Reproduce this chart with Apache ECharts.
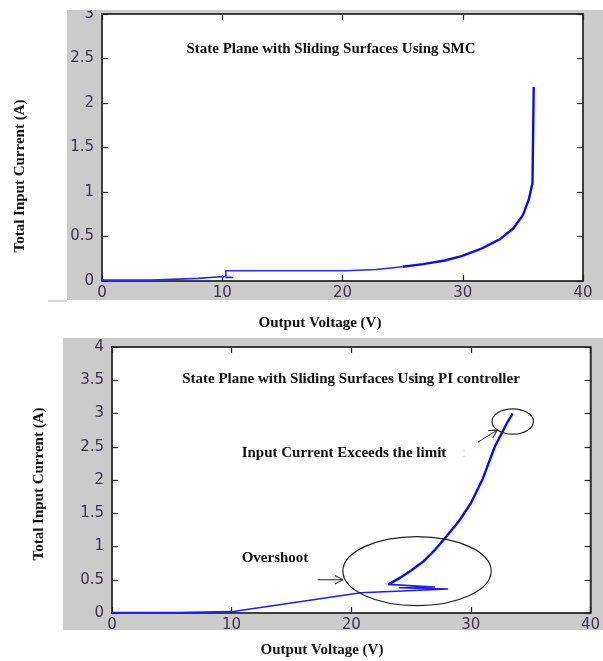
<!DOCTYPE html>
<html>
<head>
<meta charset="utf-8">
<title>State Plane with Sliding Surfaces</title>
<script src="https://cdn.jsdelivr.net/npm/echarts@6/dist/echarts.min.js"></script>
<style>
  html, body { margin: 0; padding: 0; background: #fff; }
  #chart { width: 603px; height: 661px; }
</style>
</head>
<body>
<div id="chart"></div>
<script>
// Axis ticks (shared by both panels)
const voltageTicks = [0, 10, 20, 30, 40];
const smcCurrentTicks = [0, 0.5, 1, 1.5, 2, 2.5, 3];
const piCurrentTicks = [0, 0.5, 1, 1.5, 2, 2.5, 3, 3.5, 4];

// SMC trajectory: staircase start, then the knee up to the sliding surface
const smcVoltage = [0, 4.1, 4.1, 8.0, 8.0, 10.1, 10.1, 10.9, 10.3, 10.3, 10.3, 20.3, 20.3, 22.8, 22.8, 25.0,
                    26.7, 28.5, 29.9, 31.5, 33.1, 34.2, 35.0, 35.5, 35.8, 35.9, 35.9];
const smcCurrent = [0.01, 0.01, 0.03, 0.03, 0.05, 0.05, 0.04, 0.04, 0.04, 0.02, 0.116, 0.116, 0.13, 0.13, 0.15, 0.16,
                    0.19, 0.23, 0.28, 0.36, 0.47, 0.59, 0.74, 0.92, 1.1, 1.12, 2.18];

// PI trajectory: ramp, overshoot zig-zag, then current rising past the limit
const piVoltage = [0, 5.5, 10.0, 20.8, 28.1, 24.0, 27.0, 23.1,
                   24, 25, 26, 27, 28, 29, 30, 31, 32, 33, 33.5];
const piCurrent = [0.005, 0.008, 0.02, 0.305, 0.36, 0.38, 0.39, 0.43,
                   0.52, 0.64, 0.77, 0.95, 1.16, 1.38, 1.65, 2.02, 2.5, 2.85, 3.0];

// Annotations on the PI panel, in data units
const overshootRing = { cx: 25.5, cy: 0.63, rx: 6.2, ry: 0.52 };
const limitRing = { cx: 33.5, cy: 2.88, rx: 1.73, ry: 0.19 };
const overshootArrow = [[17.2, 0.5], [19.3, 0.5]];
const limitArrow = [[30.6, 2.57], [32.2, 2.75]];

const pairs = (xs, ys) => xs.map((x, i) => [x, ys[i]]);

const tickFont = { fontFamily: 'DejaVu Sans', fontSize: 15, color: '#3b3548' };
const serifBold = { fontFamily: 'Liberation Serif', fontWeight: 'bold', fontSize: 15, fill: '#111' };
const frame = '#333';

const axisLine = { show: true, onZero: false, lineStyle: { color: frame, width: 1.5 } };
const innerTick = { show: true, inside: true, length: 6, lineStyle: { color: '#222', width: 1.2 } };

function xAxes(gridIndex) {
  return [
    { gridIndex, type: 'value', min: 0, max: 40, interval: 10, position: 'bottom', z: 4,
      axisLine, axisTick: innerTick,
      axisLabel: Object.assign({ margin: 5, formatter: v => voltageTicks.includes(v) ? String(v) : '' }, tickFont),
      splitLine: { show: false } },
    { gridIndex, type: 'value', min: 0, max: 40, interval: 10, position: 'top', z: 4,
      axisLine, axisTick: innerTick, axisLabel: { show: false }, splitLine: { show: false } }
  ];
}

function yAxes(gridIndex, ticks) {
  const max = ticks[ticks.length - 1];
  return [
    { gridIndex, type: 'value', min: 0, max, interval: 0.5, position: 'left', z: 4,
      axisLine, axisTick: innerTick,
      axisLabel: Object.assign({ margin: 8, formatter: v => String(v) }, tickFont),
      splitLine: { show: false } },
    { gridIndex, type: 'value', min: 0, max, interval: 0.5, position: 'right', z: 4,
      axisLine, axisTick: innerTick, axisLabel: { show: false }, splitLine: { show: false } }
  ];
}

const chart = echarts.init(document.getElementById('chart'), null, { renderer: 'canvas' });

const smcPts = pairs(smcVoltage, smcCurrent);
const piPts = pairs(piVoltage, piCurrent);

chart.setOption({
  backgroundColor: '#fff',
  animation: false,
  grid: [
    { left: 102, top: 14, width: 481, height: 267, show: true, backgroundColor: '#fff', borderColor: frame, borderWidth: 1.5, z: 0 },
    { left: 112, top: 347, width: 485, height: 266, show: true, backgroundColor: '#fff', borderColor: frame, borderWidth: 1.5, z: 0 }
  ],
  xAxis: [...xAxes(0), ...xAxes(1)],
  yAxis: [...yAxes(0, smcCurrentTicks), ...yAxes(1, piCurrentTicks)],
  series: [
    { type: 'line', xAxisIndex: 0, yAxisIndex: 0, data: smcPts.slice(0, 16), showSymbol: false,
      lineStyle: { color: '#2a2ae8', width: 1.6 }, z: 5 },
    { type: 'line', xAxisIndex: 0, yAxisIndex: 0, data: smcPts.slice(15), showSymbol: false,
      lineStyle: { color: '#0a0af0', width: 2.4 }, z: 5 },
    { type: 'line', xAxisIndex: 2, yAxisIndex: 2, data: piPts.slice(0, 8), showSymbol: false,
      lineStyle: { color: '#2020e0', width: 1.6 }, z: 5 },
    { type: 'line', xAxisIndex: 2, yAxisIndex: 2, data: piPts.slice(7), showSymbol: false,
      lineStyle: { color: '#0a0af0', width: 2.4 }, z: 5 }
  ]
});

// Place panels, labels and annotations once the axes are laid out
const toPx = p => chart.convertToPixel({ xAxisIndex: 2, yAxisIndex: 2 }, p);

function ring(r) {
  const c = toPx([r.cx, r.cy]);
  const e = toPx([r.cx + r.rx, r.cy + r.ry]);
  return { type: 'ellipse', z: 50,
    shape: { cx: c[0], cy: c[1], rx: Math.abs(e[0] - c[0]), ry: Math.abs(c[1] - e[1]) },
    style: { fill: 'none', stroke: '#222', lineWidth: 1.2 } };
}

function arrow(seg) {
  const a = toPx(seg[0]);
  const b = toPx(seg[1]);
  const ang = Math.atan2(b[1] - a[1], b[0] - a[0]);
  const L = 9, spread = 0.5;
  const h1 = [b[0] - L * Math.cos(ang - spread), b[1] - L * Math.sin(ang - spread)];
  const h2 = [b[0] - L * Math.cos(ang + spread), b[1] - L * Math.sin(ang + spread)];
  return [
    { type: 'polyline', z: 50, shape: { points: [a, b] }, style: { stroke: '#333', lineWidth: 1.1, fill: 'none' } },
    { type: 'polyline', z: 50, shape: { points: [h1, b, h2] }, style: { stroke: '#333', lineWidth: 1.1, fill: 'none' } }
  ];
}

function label(text, x, y, extra) {
  return Object.assign({ type: 'text', z: 60, x, y,
    style: Object.assign({ text, align: 'center', verticalAlign: 'middle' }, serifBold) }, extra || {});
}

chart.setOption({
  graphic: [
    // grey figure panels
    { type: 'rect', z: -10, shape: { x: 67, y: 10, width: 536, height: 290 }, style: { fill: '#cbcbcb' } },
    { type: 'rect', z: -10, shape: { x: 48, y: 300, width: 19, height: 2 }, style: { fill: '#d6d6d6' } },
    { type: 'rect', z: -10, shape: { x: 63, y: 338, width: 540, height: 292 }, style: { fill: '#cbcbcb' } },
    { type: 'rect', z: 70, shape: { x: 0, y: 0, width: 603, height: 10 }, style: { fill: '#fff' } },

    // titles inside the plots
    label('State Plane with Sliding Surfaces Using SMC', 331, 49),
    label('State Plane with Sliding Surfaces Using PI controller', 351, 379),

    // axis titles
    label('Output Voltage (V)', 320, 323),
    label('Total Input Current (A)', 20, 176, { rotation: Math.PI / 2 }),
    label('Output Voltage (V)', 322, 650),
    label('Total Input Current (A)', 39, 484, { rotation: Math.PI / 2 }),

    // annotations
    label('Input Current Exceeds the limit', 344, 453),
    { type: 'text', z: 60, x: 464, y: 453, style: { text: ':', fill: '#ccc', fontSize: 13, align: 'center', verticalAlign: 'middle' } },
    label('Overshoot', 275, 558),
    ring(overshootRing),
    ring(limitRing),
    ...arrow(overshootArrow),
    ...arrow(limitArrow)
  ]
});
</script>
</body>
</html>
